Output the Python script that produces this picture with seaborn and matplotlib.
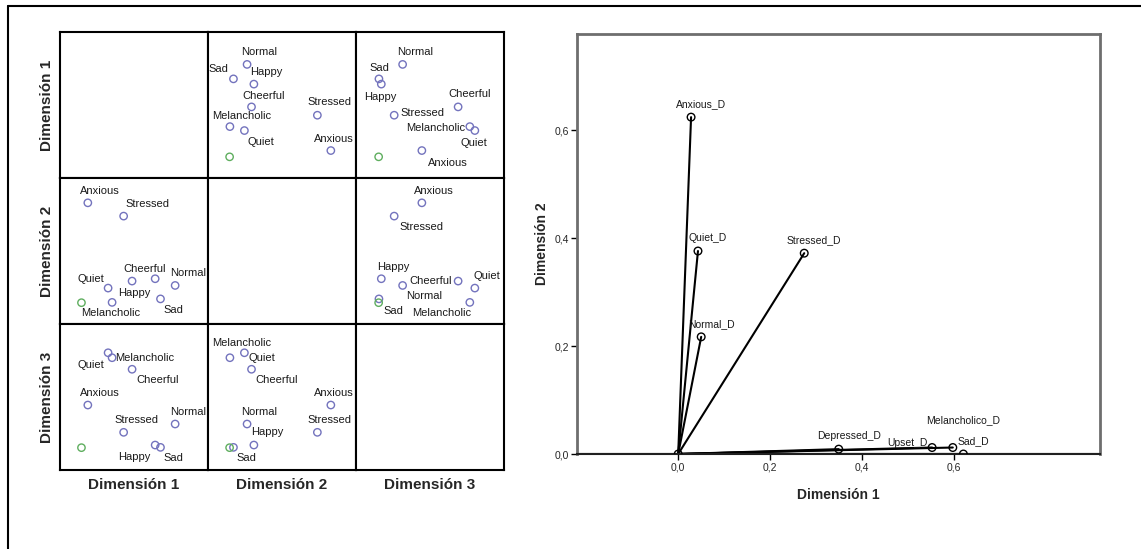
import numpy as np
import pandas as pd
import matplotlib
matplotlib.use("Agg")
import matplotlib.pyplot as plt
import seaborn as sns
from matplotlib.lines import Line2D

# Object scores (position within each dimension's range)
categories = ["Normal", "Sad", "Happy", "Cheerful", "Stressed", "Melancholic", "Quiet", "Anxious", ""]
dim1 = [0.778, 0.679, 0.643, 0.487, 0.430, 0.352, 0.325, 0.188, 0.145]
dim2 = [0.264, 0.172, 0.310, 0.294, 0.739, 0.148, 0.246, 0.830, 0.146]
dim3 = [0.315, 0.155, 0.171, 0.690, 0.258, 0.769, 0.803, 0.445, 0.153]
point_group = ["category"] * 8 + ["other"]

# Component loadings (right panel)
variables = ["Anxious_D", "Quiet_D", "Stressed_D", "Normal_D",
             "Depressed_D", "Upset_D", "Melancholico_D", "Sad_D"]
load_dim1 = [0.028, 0.043, 0.274, 0.050, 0.349, 0.552, 0.597, 0.620]
load_dim2 = [0.624, 0.376, 0.372, 0.217, 0.009, 0.012, 0.012, 0.000]

dim_names = ["Dimensión 1", "Dimensión 2", "Dimensión 3"]

# label offsets in screen pixels (dx right, dy down), per matrix cell (row, col)
MATRIX_LABELS = {
    (0, 1): {"Normal": (12, -12), "Sad": (-15, -10), "Happy": (12, -12), "Cheerful": (12, -11),
             "Melancholic": (12, -11), "Quiet": (16, 11), "Stressed": (12, -13), "Anxious": (3, -12)},
    (0, 2): {"Normal": (13, -12), "Sad": (0, -11), "Happy": (-1, 13), "Cheerful": (12, -13),
             "Stressed": (28, -2), "Melancholic": (-34, 1), "Quiet": (-1, 12), "Anxious": (26, 12)},
    (1, 0): {"Anxious": (12, -12), "Stressed": (24, -12), "Quiet": (-17, -9), "Cheerful": (13, -12),
             "Happy": (-21, 14), "Normal": (13, -12), "Sad": (13, 11), "Melancholic": (-1, 11)},
    (1, 2): {"Anxious": (12, -12), "Stressed": (27, 11), "Happy": (12, -12), "Cheerful": (-27, 0),
             "Normal": (22, 11), "Quiet": (12, -12), "Sad": (14, 12), "Melancholic": (-28, 11)},
    (2, 0): {"Quiet": (-17, 12), "Melancholic": (33, 0), "Cheerful": (26, 11), "Anxious": (12, -12),
             "Stressed": (13, -12), "Normal": (13, -12), "Happy": (-21, 12), "Sad": (13, 11)},
    (2, 1): {"Melancholic": (12, -15), "Quiet": (17, 5), "Cheerful": (25, 11), "Anxious": (3, -12),
             "Normal": (12, -12), "Stressed": (12, -12), "Happy": (13, -13), "Sad": (13, 11)},
}
LOADING_LABELS = {"Upset_D": (-25, -5), "Melancholico_D": (10, -27)}

sns.set_style("white")
plt.rcParams["font.family"] = ["Liberation Sans", "DejaVu Sans"]

W, H = 1141, 549
fig = plt.figure(figsize=(W / 100, H / 100), dpi=100)


def px_box(left, top, right, bottom):
    return [left / W, 1 - bottom / H, (right - left) / W, (bottom - top) / H]


scores = pd.DataFrame({"name": categories, "d0": dim1, "d1": dim2, "d2": dim3, "group": point_group})
palette = {"category": "#7373bd", "other": "#5fae5f"}

m_left, m_top, m_right, m_bottom = 60, 32, 504, 470
cw = (m_right - m_left) / 3
ch = (m_bottom - m_top) / 3

for r in range(3):
    for c in range(3):
        ax = fig.add_axes(px_box(m_left + c * cw, m_top + r * ch, m_left + (c + 1) * cw, m_top + (r + 1) * ch))
        ax.set_xlim(0, 1)
        ax.set_ylim(0, 1)
        if r != c:
            for _, g in scores.groupby("group"):
                sns.scatterplot(data=g, x=f"d{c}", y=f"d{r}", ax=ax, s=28, marker="o",
                                facecolor="none", edgecolor=palette[g["group"].iloc[0]],
                                linewidth=1.0, legend=False)
            offs = MATRIX_LABELS[(r, c)]
            for _, row in scores.iterrows():
                if row["name"] in offs:
                    dx, dy = offs[row["name"]]
                    ax.annotate(row["name"], (row[f"d{c}"], row[f"d{r}"]), xytext=(dx, -dy),
                                textcoords="offset pixels", ha="center", va="center",
                                fontsize=8, color="#1a1a1a")
        ax.set_xticks([])
        ax.set_yticks([])
        ax.set_xlabel("")
        ax.set_ylabel("")
        for sp in ax.spines.values():
            sp.set_color("black")
            sp.set_linewidth(1.5)
        if c == 0:
            ax.set_ylabel(dim_names[r], fontsize=11, fontweight="bold", labelpad=4)
        if r == 2:
            ax.set_xlabel(dim_names[c], fontsize=11, fontweight="bold", labelpad=6)

# Component loadings plot
bx = fig.add_axes(px_box(577, 34, 1100, 454))
loads = pd.DataFrame({"name": variables, "x": load_dim1, "y": load_dim2})
for _, row in loads.iterrows():
    bx.plot([0, row["x"]], [0, row["y"]], color="black", lw=1.5, zorder=2)
bx.axhline(0, color="black", lw=1.5, zorder=1)
sns.scatterplot(data=loads, x="x", y="y", ax=bx, s=30, marker="o", facecolor="none",
                edgecolor="black", linewidth=1.0, legend=False, zorder=3)
bx.scatter([0], [0], s=30, facecolor="none", edgecolor="black", linewidth=1.0, zorder=3)
for _, row in loads.iterrows():
    dx, dy = LOADING_LABELS.get(row["name"], (10, -13))
    bx.annotate(row["name"], (row["x"], row["y"]), xytext=(dx, -dy), textcoords="offset pixels",
                ha="center", va="center", fontsize=7.5, color="#1a1a1a")

bx.set_xlim(-0.22, 0.917)
bx.set_ylim(0, 0.778)
bx.set_xticks([0, 0.2, 0.4, 0.6])
bx.set_yticks([0, 0.2, 0.4, 0.6])
bx.set_xticklabels(["0,0", "0,2", "0,4", "0,6"])
bx.set_yticklabels(["0,0", "0,2", "0,4", "0,6"])
bx.tick_params(axis="both", which="both", direction="out", length=4, width=1,
               labelsize=7.5, color="black", bottom=True, left=True, pad=2)
bx.set_xlabel("Dimensión 1", fontsize=10, fontweight="bold", labelpad=11)
bx.set_ylabel("Dimensión 2", fontsize=10, fontweight="bold", labelpad=4)
for sp in bx.spines.values():
    sp.set_color("#6e6e6e")
    sp.set_linewidth(2)
bx.spines["bottom"].set_color("#202020")
bx.spines["bottom"].set_linewidth(1.5)

# outer frame of the output window
fig.add_artist(Line2D([7.5 / W, 7.5 / W], [0, 1 - 6 / H], color="black", lw=1.5))
fig.add_artist(Line2D([7.5 / W, 1], [1 - 6 / H, 1 - 6 / H], color="black", lw=1.5))

fig.savefig("out.png", dpi=100)
